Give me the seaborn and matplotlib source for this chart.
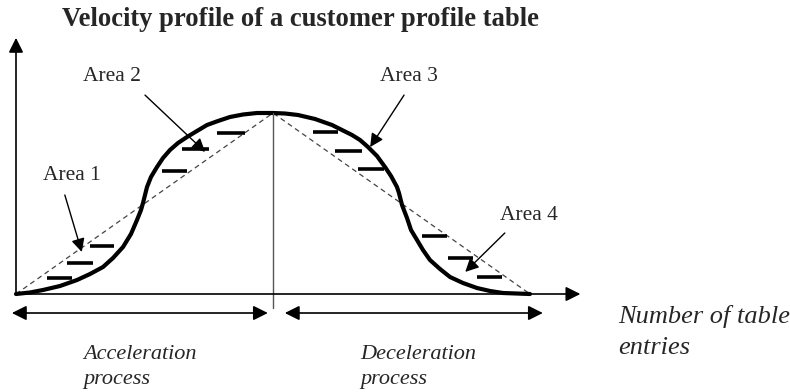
"""Velocity profile schematic of a customer profile table."""

import matplotlib

matplotlib.use("Agg")
import matplotlib.pyplot as plt
import pandas as pd
import seaborn as sns

# curve: table entries (0-100) vs velocity (0-100)
accel_x = [0, 2.72, 5.25, 8.56, 11.87, 14.40, 16.93, 18.87, 20.82, 22.37, 23.54, 24.32,
           24.71, 25.10, 25.49, 26.26, 27.43, 28.60, 29.96, 31.52, 33.27, 35.21, 37.16,
           39.30, 41.63, 44.16, 46.89, 50.0]
accel_v = [0, 0.83, 2.21, 4.42, 7.73, 11.05, 14.92, 19.89, 25.97, 33.15, 40.88, 46.41,
           50.28, 54.70, 59.12, 64.64, 70.17, 75.14, 79.56, 83.43, 86.74, 90.06, 93.37,
           95.58, 97.79, 99.17, 100.0, 100.0]
decel_x = [50.0, 52.33, 54.86, 58.17, 61.48, 63.42, 65.37, 66.93, 68.48, 70.23, 71.79,
           72.96, 74.12, 74.51, 75.10, 76.07, 76.85, 78.02, 79.18, 80.54, 82.49, 84.44,
           86.96, 89.69, 92.22, 94.75, 100.0]
decel_v = [100.0, 99.72, 98.90, 96.69, 93.37, 90.61, 87.85, 85.08, 81.22, 76.24, 70.17,
           65.19, 59.12, 55.80, 49.17, 41.99, 35.36, 29.83, 24.31, 18.78, 13.81, 9.39,
           6.08, 3.31, 1.66, 0.55, 0]

# straight (linear) reference profile
linear_x = [0, 50, 100]
linear_v = [0, 100, 0]

# short dashes marking the four areas: start, end, level
area_names = ["Area 1", "Area 2", "Area 3", "Area 4"]
dash_x0 = [6.0, 9.9, 14.4, 28.4, 32.3, 39.1, 57.8, 62.1, 66.5, 79.0, 84.0, 89.7]
dash_x1 = [10.9, 14.9, 19.1, 33.3, 37.5, 44.6, 62.6, 67.3, 71.6, 83.9, 88.9, 94.6]
dash_v = [8.8, 17.1, 26.5, 68.0, 80.1, 89.0, 89.5, 79.0, 69.1, 32.0, 19.9, 9.4]

PX_X = 5.14   # pixels per unit of x
PX_Y = 1.81   # pixels per unit of velocity

sns.set_theme(style="white")
plt.rcParams["font.family"] = ["Liberation Serif", "DejaVu Serif"]

fig = plt.figure(figsize=(7.9, 3.92), dpi=100)
ax = fig.add_axes([0, 0, 1, 1])
ax.set_xlim(-16 / PX_X, 774 / PX_X)
ax.set_ylim((294 - 392) / PX_Y, 294 / PX_Y)
ax.axis("off")

curve = pd.DataFrame({
    "entries": accel_x + decel_x[1:],
    "velocity": accel_v + decel_v[1:],
})
linear = pd.DataFrame({"entries": linear_x, "velocity": linear_v})

sns.lineplot(data=linear, x="entries", y="velocity", ax=ax, color="#444444",
             lw=0.9, linestyle=(0, (4, 3)))
sns.lineplot(data=curve, x="entries", y="velocity", ax=ax, color="black",
             lw=3.0, sort=False)
ax.hlines(dash_v, dash_x0, dash_x1, color="black", lw=2.6)

# axes with arrow heads
head = dict(arrowstyle="-|>", mutation_scale=22, color="black", lw=1.2,
            shrinkA=0, shrinkB=0)
ax.annotate("", xy=(0, 141.5), xytext=(0, 0), arrowprops=head)
ax.annotate("", xy=(109.8, 0), xytext=(0, 0), arrowprops=head)
ax.plot([50, 50], [100, -7.7], color="#555555", lw=1.0)

# process spans
span = dict(arrowstyle="<|-|>", mutation_scale=22, color="black", lw=1.2,
            shrinkA=0, shrinkB=0)
ax.annotate("", xy=(49.0, -10.5), xytext=(-0.8, -10.5), arrowprops=span)
ax.annotate("", xy=(102.5, -10.5), xytext=(52.3, -10.5), arrowprops=span)

# area labels with pointers
label_pos = [(10.9, 65.2), (18.7, 120.4), (76.5, 120.4), (99.8, 43.6)]
arrow_start = [(9.5, 54.7), (25.1, 109.9), (75.5, 109.9), (95.1, 33.7)]
arrow_tip = [(12.8, 23.2), (36.8, 78.5), (68.9, 81.2), (87.4, 12.2)]
pointer = dict(arrowstyle="-|>", mutation_scale=20, color="black", lw=1.0,
               shrinkA=0, shrinkB=0)
for name, pos, start, tip in zip(area_names, label_pos, arrow_start, arrow_tip):
    ax.text(*pos, name, ha="center", va="center", fontsize=15.5)
    ax.annotate("", xy=tip, xytext=start, arrowprops=pointer)

fig.text(301 / 790, 1 - 20 / 392, "Velocity profile of a customer profile table",
         ha="center", va="center", fontsize=19.2, fontweight="bold")
fig.text(83 / 790, 1 - 367 / 392, "Acceleration\nprocess", ha="left", va="center",
         fontsize=16, style="italic", linespacing=1.47)
fig.text(360 / 790, 1 - 367 / 392, "Deceleration\nprocess", ha="left", va="center",
         fontsize=16, style="italic", linespacing=1.47)
fig.text(618 / 790, 1 - 332 / 392, "Number of table\nentries", ha="left", va="center",
         fontsize=19, style="italic", linespacing=1.58)

fig.savefig("out.png", dpi=100)
